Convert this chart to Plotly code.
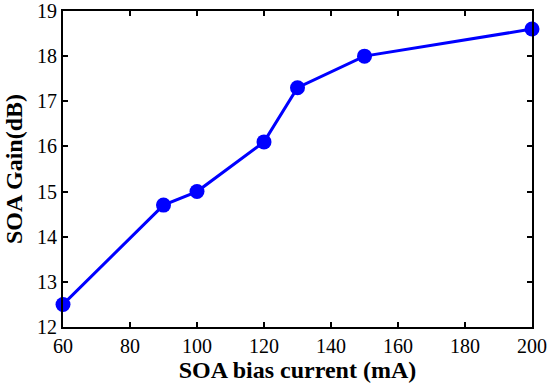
import plotly.graph_objects as go

bias_current = [60, 90, 100, 120, 130, 150, 200]
gain_db = [12.5, 14.7, 15.0, 16.1, 17.3, 18.0, 18.6]
x_ticks = [60, 80, 100, 120, 140, 160, 180, 200]
y_ticks = [12, 13, 14, 15, 16, 17, 18, 19]

fig = go.Figure()
fig.add_trace(go.Scatter(
    x=bias_current, y=gain_db, mode="lines+markers",
    line=dict(color="#0000ff", width=3),
    marker=dict(color="#0000ff", size=15),
    cliponaxis=False,
))

font = "Liberation Serif, Times New Roman, serif"
axis_common = dict(
    showline=True, linecolor="black", linewidth=2, mirror="ticks",
    ticks="inside", ticklen=5, tickwidth=2, tickcolor="black",
    showgrid=False, zeroline=False, automargin=False,
    ticklabeloverflow="allow",
    tickfont=dict(family=font, size=20, color="black"),
)

fig.update_layout(
    width=550, height=390,
    font=dict(family=font, color="black"),
    margin=dict(l=63, r=18, t=11, b=63, autoexpand=False),
    paper_bgcolor="white", plot_bgcolor="white",
    showlegend=False,
    xaxis=dict(range=[60, 200], tickvals=x_ticks,
               title=dict(text="<b>SOA bias current (mA)</b>", standoff=5,
                          font=dict(family=font, size=24, color="black")),
               **axis_common),
    yaxis=dict(range=[12, 19], tickvals=y_ticks,
               title=dict(text="<b>SOA Gain(dB)</b>", standoff=8,
                          font=dict(family=font, size=24, color="black")),
               **axis_common),
)

fig.write_html("out.html", config={"displayModeBar": False},
               post_script="document.body.style.margin='0';document.body.style.overflow='hidden';")
